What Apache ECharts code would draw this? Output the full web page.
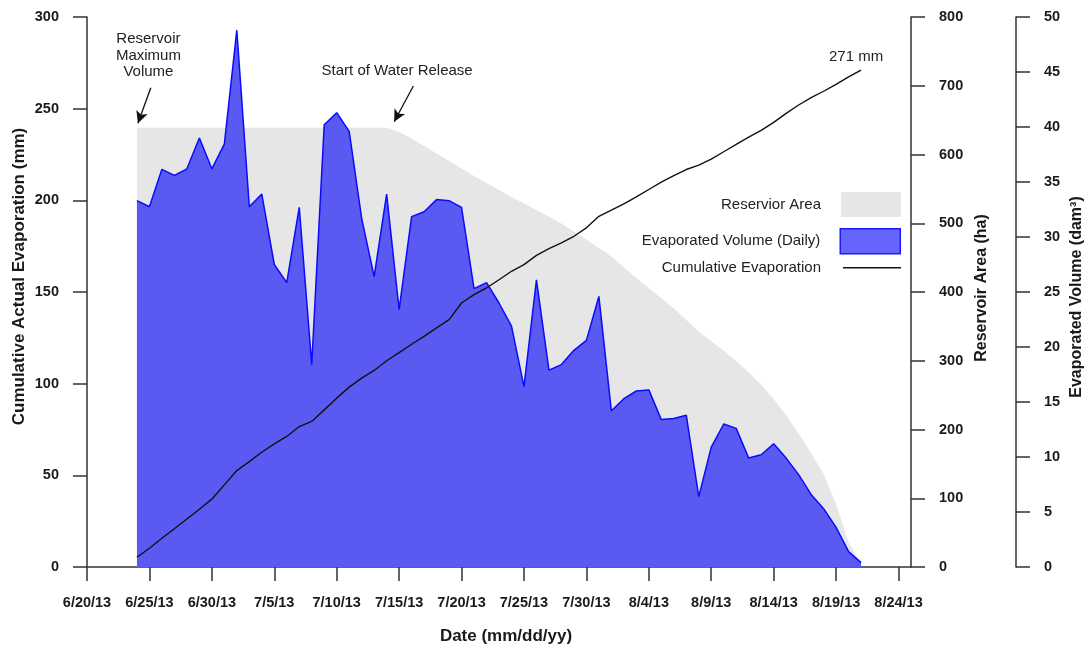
<!DOCTYPE html>
<html><head><meta charset="utf-8">
<script src="https://cdn.jsdelivr.net/npm/echarts@6/dist/echarts.min.js"></script>
<style>html,body{margin:0;padding:0;background:#fff}#c{width:1084px;height:645px}</style>
</head><body><div id="c"></div>
<script>
// ---- data ----
const dates = ['6/24/13','6/25/13','6/26/13','6/27/13','6/28/13','6/29/13','6/30/13',
  '7/1/13','7/2/13','7/3/13','7/4/13','7/5/13','7/6/13','7/7/13','7/8/13','7/9/13','7/10/13',
  '7/11/13','7/12/13','7/13/13','7/14/13','7/15/13','7/16/13','7/17/13','7/18/13','7/19/13','7/20/13',
  '7/21/13','7/22/13','7/23/13','7/24/13','7/25/13','7/26/13','7/27/13','7/28/13','7/29/13','7/30/13','7/31/13',
  '8/1/13','8/2/13','8/3/13','8/4/13','8/5/13','8/6/13','8/7/13','8/8/13','8/9/13','8/10/13',
  '8/11/13','8/12/13','8/13/13','8/14/13','8/15/13','8/16/13','8/17/13','8/18/13','8/19/13','8/20/13','8/21/13'];
// Evaporated volume (daily), dam^3
const volume = [33.3,32.75,36.15,35.6,36.2,39.0,36.2,38.45,48.8,32.75,
  33.9,27.5,25.85,32.7,18.4,40.2,41.3,39.6,31.7,26.4,
  33.9,23.4,31.85,32.3,33.4,33.3,32.7,25.3,25.85,24.0,
  21.9,16.4,26.1,17.9,18.4,19.7,20.6,24.6,14.2,15.3,
  16.0,16.1,13.4,13.5,13.8,6.4,10.9,13.0,12.6,9.9,
  10.2,11.2,9.9,8.4,6.6,5.3,3.6,1.4,0.4];
// Cumulative actual evaporation, mm
const cumulative = [5.3,10.2,15.7,20.9,26.2,31.5,37.0,44.8,52.6,57.5,
  62.6,67.2,71.2,76.6,79.4,85.7,92.1,98.1,103.0,107.2,
  112.5,116.9,121.5,125.8,130.4,134.9,144.0,148.6,152.2,156.7,
  161.3,164.9,170.0,173.7,176.8,180.4,185.0,191.3,194.6,198.1,
  201.9,205.9,209.9,213.5,216.8,219.2,222.5,226.5,230.5,234.5,
  238.2,242.5,247.4,252.0,256.0,259.5,263.3,267.3,271.0];
// Reservoir area, ha
const area = [639,639,639,639,639,639,639,639,639,639,
  639,639,639,639,639,639,639,639,639,639,
  639,632.8,623.3,612.4,601.5,590.6,579.6,568.7,558.5,548.3,
  538.1,528.7,519.2,509.7,499.5,487.9,476.2,463.9,451.5,435.5,
  420.2,405.6,391.0,376.5,359.3,342.3,328.4,314.6,299.3,283.3,
  264.8,244.2,220.6,193.7,165.3,134.9,91.3,35.8,5];
const tickLabels = ['6/20/13','6/25/13','6/30/13','7/5/13','7/10/13','7/15/13','7/20/13',
  '7/25/13','7/30/13','8/4/13','8/9/13','8/14/13','8/19/13','8/24/13'];
const axisStart = '6/20/13', axisEnd = '8/25/13';
// annotations: [day offset, mm]
const arrows = [[[5.11,261.4],[4.08,242.0]], [[26.14,262.4],[24.6,242.9]]];
const notes = [
  {text:'Reservoir\nMaximum\nVolume', at:[4.92,278.9]},
  {text:'Start of Water Release', at:[24.84,270.5]},
  {text:'271 mm', at:[61.6,278.3]}
];

// ---- helpers ----
function dayNum(s){const p=s.split('/');return Date.UTC(2000+(+p[2]),+p[0]-1,+p[1])/864e5;}
const d0 = dayNum(axisStart);
const xOf = s => dayNum(s) - d0;
const tickVals = tickLabels.map(xOf);
const FONT = "'Liberation Sans', Arial, sans-serif";
const axisCol = '#333';
const lbl = {fontFamily:FONT, fontWeight:'bold', fontSize:14.5, color:'#1a1a1a'};
function nameStyle(size, pad){return {fontFamily:FONT, fontWeight:'bold', fontSize:size, color:'#1a1a1a', padding:pad};}
function yAx(extra){
  return Object.assign({
    type:'value', nameLocation:'middle', nameMoveOverlap:false,
    axisLine:{show:true, lineStyle:{color:axisCol, width:1.5}},
    axisTick:{show:true, length:14, lineStyle:{color:axisCol, width:1.5}},
    axisLabel:Object.assign({margin:28}, lbl),
    splitLine:{show:false}
  }, extra);
}

const chart = echarts.init(document.getElementById('c'), null, {renderer:'canvas'});
function legendText(padR){return {fontFamily:FONT, fontSize:15, color:'#222', padding:[0,padR,0,0]};}
const option = {
  animation:false,
  backgroundColor:'#fff',
  grid:{left:87, right:173, top:17, bottom:78, outerBoundsMode:'none'},
  xAxis:{
    type:'value', min:0, max:xOf(axisEnd),
    name:'Date (mm/dd/yy)', nameLocation:'middle', nameGap:61, nameTextStyle:nameStyle(17,[0,0,0,14]), nameMoveOverlap:false,
    axisLine:{show:true, onZero:false, lineStyle:{color:axisCol, width:1.5}},
    axisTick:{show:true, length:14, customValues:tickVals, lineStyle:{color:axisCol, width:1.5}},
    axisLabel:Object.assign({margin:28, customValues:tickVals,
      formatter:v=>{const i=tickVals.indexOf(Math.round(v));return i>=0?tickLabels[i]:'';}}, lbl),
    splitLine:{show:false}
  },
  yAxis:[
    yAx({min:0, max:300, interval:50, position:'left', name:'Cumulative Actual Evaporation (mm)', nameGap:59,
         nameTextStyle:nameStyle(17,[0,0,0,31])}),
    yAx({min:0, max:800, interval:100, position:'right', name:'Reservoir Area (ha)', nameGap:63,
         nameTextStyle:nameStyle(16,[0,0,0,8])}),
    yAx({min:0, max:50, interval:5, position:'right', offset:105, name:'Evaporated Volume (dam³)', nameGap:53,
         nameTextStyle:nameStyle(16,[0,10,0,0])})
  ],
  legend:[
    {data:[{name:'Reservior Area', icon:'rect', itemStyle:{color:'#e6e6e6', borderWidth:0}}],
     right:183, top:192, orient:'vertical', align:'right', itemWidth:60, itemHeight:25, selectedMode:false, padding:0,
     textStyle:legendText(15)},
    {data:[{name:'Evaporated Volume (Daily)', icon:'rect', itemStyle:{color:'#6666ff', borderColor:'#1a1aff', borderWidth:1.5}}],
     right:183, top:228, orient:'vertical', align:'right', itemWidth:60, itemHeight:25, selectedMode:false, padding:0,
     textStyle:legendText(15)},
    {data:[{name:'Cumulative Evaporation', icon:'rect', itemStyle:{color:'#111', borderWidth:0}}],
     right:183, top:260.3, orient:'vertical', align:'right', itemWidth:58, itemHeight:1.5, selectedMode:false, padding:0,
     textStyle:legendText(17)}
  ],
  series:[
    {name:'Reservior Area', type:'line', xAxisIndex:0, yAxisIndex:1, symbol:'none', silent:true,
     data:dates.map((d,i)=>[xOf(d), area[i]]),
     itemStyle:{color:'#e6e6e6'}, lineStyle:{width:0, color:'#e6e6e6'}, areaStyle:{color:'#e6e6e6', opacity:1}, z:1},
    {name:'Evaporated Volume (Daily)', type:'line', xAxisIndex:0, yAxisIndex:2, symbol:'none', silent:true,
     data:dates.map((d,i)=>[xOf(d), volume[i]]),
     itemStyle:{color:'#5a5af2'}, lineStyle:{width:1.5, color:'#0a0aff'}, areaStyle:{color:'#5a5af2', opacity:1}, z:2},
    {name:'Cumulative Evaporation', type:'line', xAxisIndex:0, yAxisIndex:0, symbol:'none', silent:true,
     data:dates.map((d,i)=>[xOf(d), cumulative[i]]),
     itemStyle:{color:'#111'}, lineStyle:{width:1.4, color:'#111'}, z:3,
     markLine:{silent:true, symbol:['none','arrow'], symbolSize:[9,12], animation:false,
       lineStyle:{color:'#111', width:1.3, type:'solid'}, label:{show:false}, emphasis:{disabled:true},
       data:arrows.map(a=>[{coord:a[0]},{coord:a[1]}])}}
  ]
};
chart.setOption(option);
const gfx = notes.map(n=>{
  const p = chart.convertToPixel({xAxisIndex:0, yAxisIndex:0}, n.at);
  return {type:'text', x:p[0], y:p[1], silent:true, z:10,
    style:{text:n.text, x:0, y:0, align:'center', verticalAlign:'middle', fill:'#222',
      font:'15px ' + FONT, lineHeight:16.5}};
});
chart.setOption({graphic:gfx});
</script></body></html>
